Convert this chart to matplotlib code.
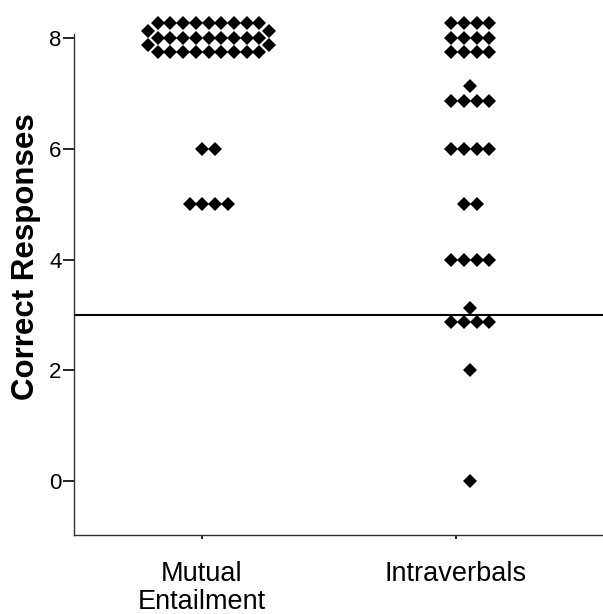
import numpy as np
import matplotlib.pyplot as plt

plt.rcParams['font.family'] = ['Liberation Sans', 'DejaVu Sans']

# data: score values and how many participants got each score
categories = ['Mutual\nEntailment', 'Intraverbals']
me_scores = [8, 6, 5]
me_counts = [31, 2, 4]
iv_scores = [8, 7, 6, 5, 4, 3, 2, 0]
iv_counts = [12, 5, 4, 2, 4, 5, 1, 1]
criterion = 3

# layout of the dot stacks
row_width = [9, 4]          # max dots per row in each group
group_shift = [0.026, 0.057]
dx = 0.05                   # horizontal spacing (data units)
dy = 0.26                   # vertical spacing between rows


def stack(center, value, n, width):
    """Place n dots with the same value in rows around (center, value)."""
    full, rest = divmod(n, width)
    xs, ys = [], []
    if full >= 3 and rest % 2 == 0:
        # full rows, leftovers pushed to the ends between rows
        row_y = value + (np.arange(full) - (full - 1) / 2) * dy
        for ry in row_y:
            xs += list(center + (np.arange(width) - (width - 1) / 2) * dx)
            ys += [ry] * width
        for k in range(rest // 2):
            gy = (row_y[k] + row_y[k + 1]) / 2
            edge = ((width - 1) / 2 + 0.75) * dx
            xs += [center - edge, center + edge]
            ys += [gy, gy]
    else:
        sizes = [width] * full + ([rest] if rest else [])
        nrows = len(sizes)
        for r, s in enumerate(sizes):
            ry = value + (r - (nrows - 1) / 2) * dy
            xs += list(center + (np.arange(s) - (s - 1) / 2) * dx)
            ys += [ry] * s
    return xs, ys


fig = plt.figure(figsize=(6.03, 6.14), dpi=100)
ax = fig.add_axes([0.1227, 0.1287, 0.8773, 0.8159])

groups = [(me_scores, me_counts), (iv_scores, iv_counts)]
for g, (scores, counts) in enumerate(groups):
    center = g + 1 + group_shift[g]
    for v, c in zip(scores, counts):
        xs, ys = stack(center, v, c, row_width[g])
        ax.plot(xs, ys, linestyle='none', marker='D', markersize=7.4,
                color='black', markeredgewidth=0, clip_on=False)

ax.axhline(criterion, color='black', linewidth=1.5)

ax.set_xlim(0.496, 2.579)
ax.set_ylim(-0.97, 8.07)
ax.set_yticks([0, 2, 4, 6, 8])
ax.set_xticks([1, 2])
ax.set_xticklabels(categories, fontsize=19.5, linespacing=1.1)
ax.tick_params(axis='y', labelsize=16, length=8, width=1.2, pad=1, colors='black')
ax.tick_params(axis='x', length=3, width=1.2, pad=16)

for s in ['top', 'right']:
    ax.spines[s].set_visible(False)
for s in ['left', 'bottom']:
    ax.spines[s].set_linewidth(1.0)
    ax.spines[s].set_color('#333333')

fig.text(26 / 603, 1 - 257 / 614, 'Correct Responses', rotation=90,
         ha='center', va='center', fontsize=22.5, fontweight='bold')

fig.savefig('out.png', dpi=100)
